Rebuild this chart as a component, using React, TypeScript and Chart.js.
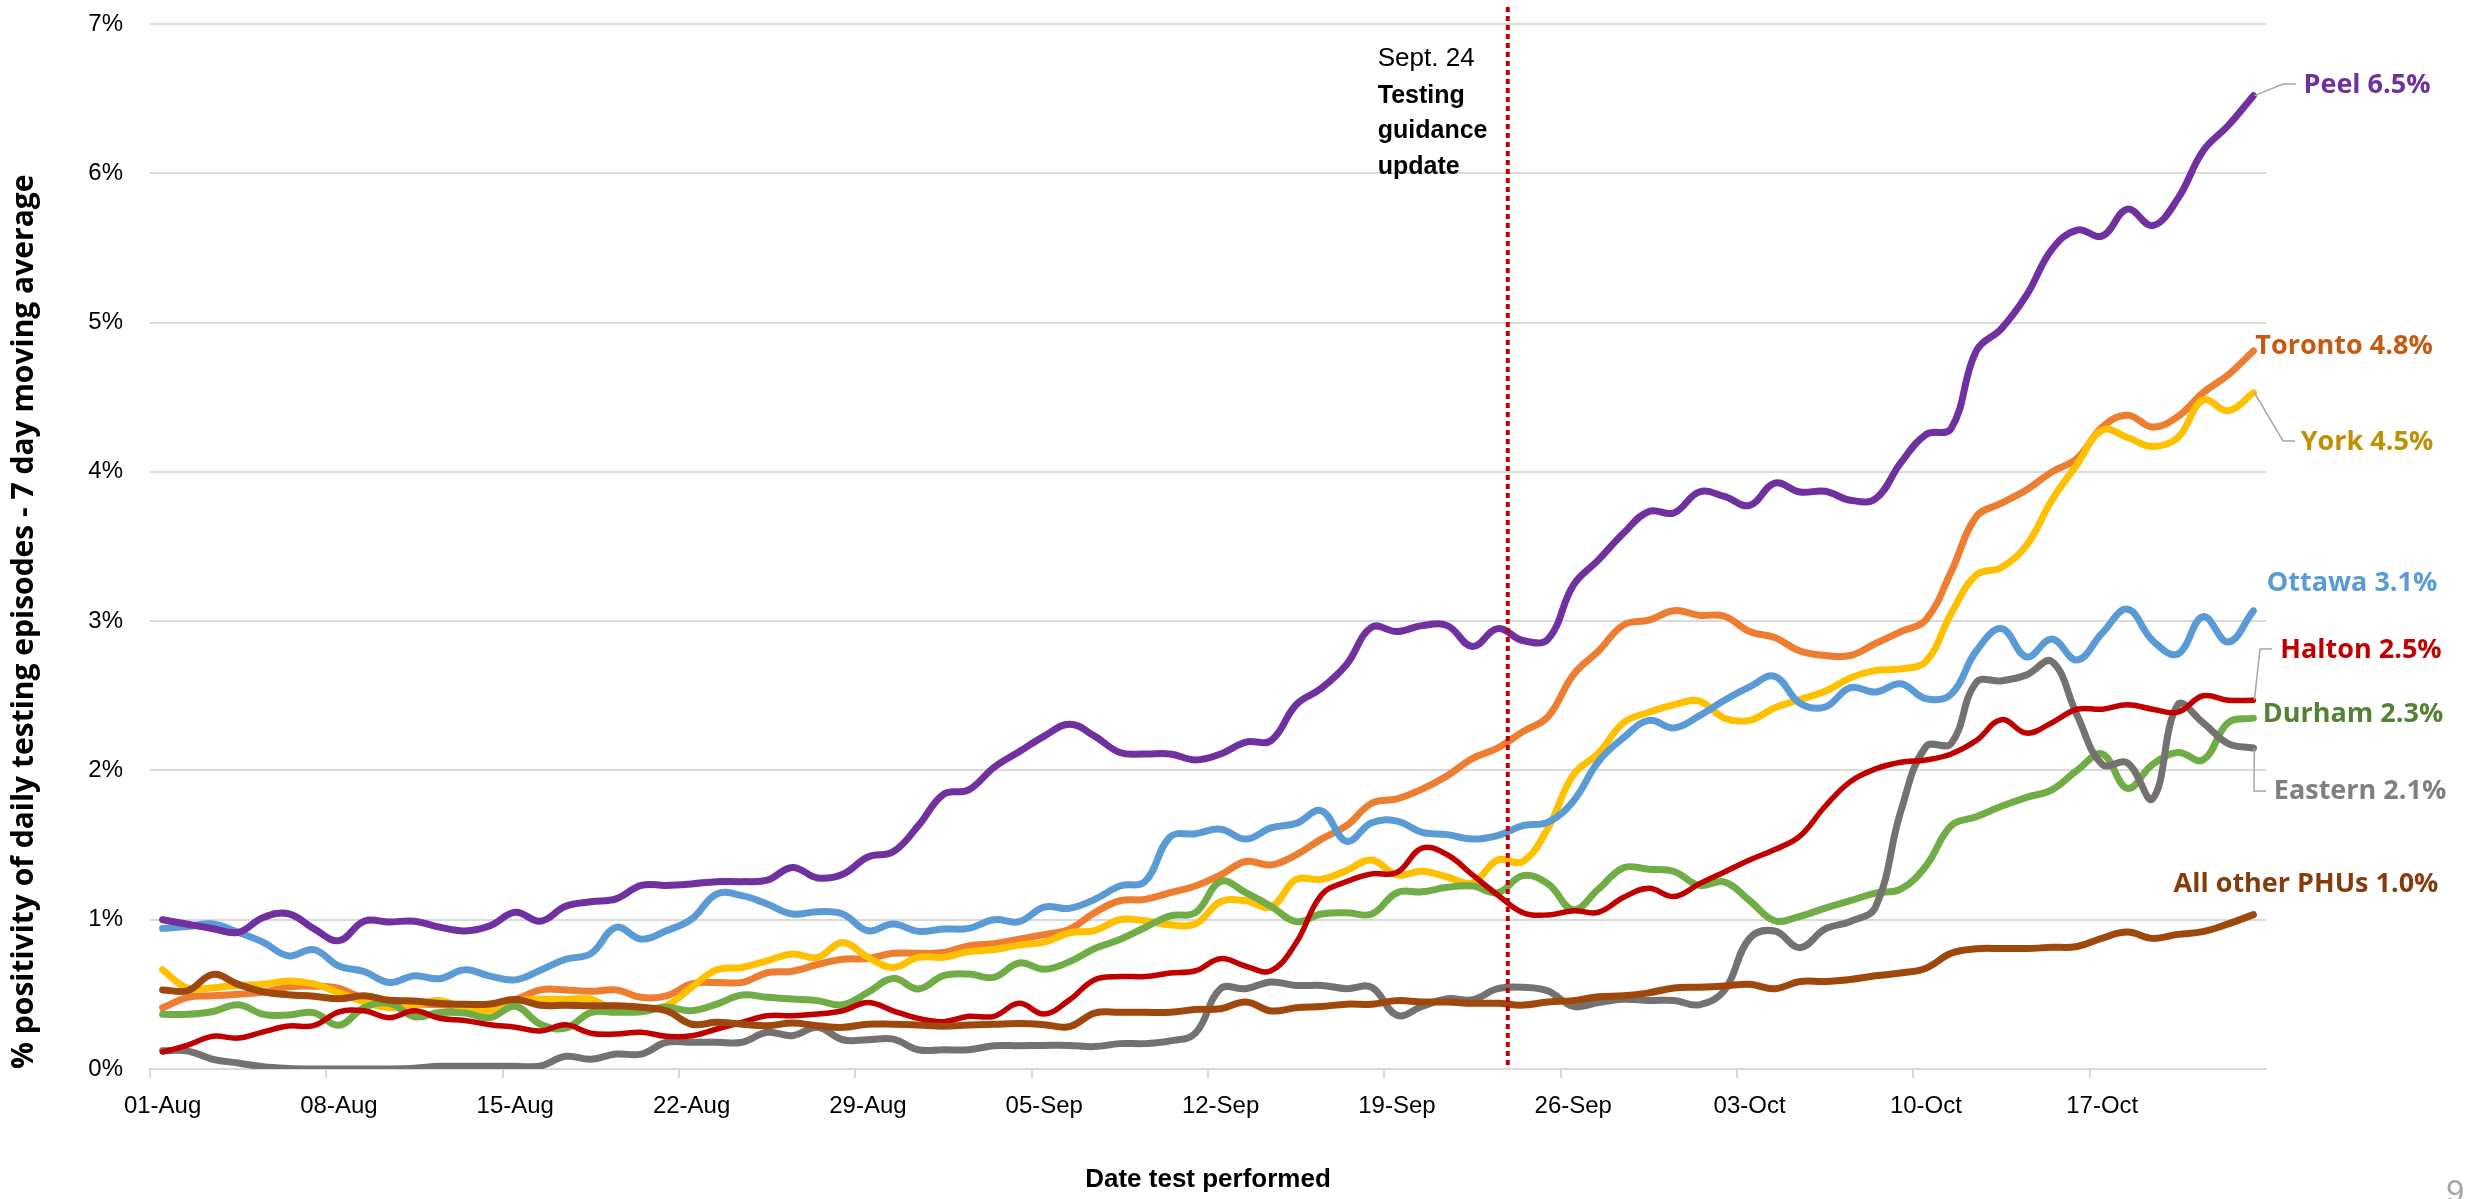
import React, { useEffect, useRef } from 'react';
import { Chart, registerables } from 'chart.js';

Chart.register(...registerables);

// ---------- DATA ----------
const DATES = [
  '01-Aug','02-Aug','03-Aug','04-Aug','05-Aug','06-Aug','07-Aug','08-Aug','09-Aug','10-Aug',
  '11-Aug','12-Aug','13-Aug','14-Aug','15-Aug','16-Aug','17-Aug','18-Aug','19-Aug','20-Aug',
  '21-Aug','22-Aug','23-Aug','24-Aug','25-Aug','26-Aug','27-Aug','28-Aug','29-Aug','30-Aug',
  '31-Aug','01-Sep','02-Sep','03-Sep','04-Sep','05-Sep','06-Sep','07-Sep','08-Sep','09-Sep',
  '10-Sep','11-Sep','12-Sep','13-Sep','14-Sep','15-Sep','16-Sep','17-Sep','18-Sep','19-Sep',
  '20-Sep','21-Sep','22-Sep','23-Sep','24-Sep','25-Sep','26-Sep','27-Sep','28-Sep','29-Sep',
  '30-Sep','01-Oct','02-Oct','03-Oct','04-Oct','05-Oct','06-Oct','07-Oct','08-Oct','09-Oct',
  '10-Oct','11-Oct','12-Oct','13-Oct','14-Oct','15-Oct','16-Oct','17-Oct','18-Oct','19-Oct',
  '20-Oct','21-Oct','22-Oct','23-Oct'
];

const TICK_LABELS = ['01-Aug','08-Aug','15-Aug','22-Aug','29-Aug','05-Sep','12-Sep','19-Sep','26-Sep','03-Oct','10-Oct','17-Oct'];
const Y_TICKS = [0, 1, 2, 3, 4, 5, 6, 7];

const PEEL = [
  1.00,0.97,0.94,0.915,1.015,1.04,0.94,0.86,0.99,0.985,
  0.99,0.95,0.925,0.96,1.05,0.99,1.09,1.12,1.14,1.23,
  1.23,1.24,1.255,1.255,1.265,1.35,1.28,1.305,1.42,1.455,
  1.63,1.84,1.87,2.02,2.125,2.23,2.31,2.23,2.12,2.11,
  2.11,2.07,2.11,2.19,2.20,2.44,2.55,2.71,2.96,2.93,
  2.97,2.97,2.83,2.95,2.87,2.88,3.24,3.41,3.59,3.735,
  3.725,3.865,3.835,3.775,3.925,3.865,3.87,3.81,3.82,4.06,
  4.25,4.29,4.81,4.96,5.185,5.49,5.62,5.58,5.76,5.65,
  5.83,6.15,6.32,6.52
];

const TORONTO = [
  0.41,0.48,0.49,0.50,0.515,0.55,0.555,0.54,0.47,0.44,
  0.435,0.43,0.42,0.43,0.465,0.53,0.53,0.52,0.53,0.48,
  0.49,0.57,0.58,0.58,0.645,0.655,0.70,0.735,0.74,0.775,
  0.775,0.78,0.825,0.84,0.87,0.90,0.936,1.047,1.127,1.136,
  1.181,1.226,1.30,1.39,1.367,1.435,1.54,1.63,1.78,1.81,
  1.875,1.965,2.08,2.15,2.26,2.36,2.64,2.80,2.975,3.007,
  3.07,3.04,3.033,2.93,2.89,2.80,2.77,2.77,2.85,2.93,
  3.01,3.33,3.70,3.79,3.88,4.00,4.09,4.30,4.38,4.30,
  4.37,4.53,4.65,4.81
];

const YORK = [
  0.665,0.54,0.545,0.56,0.567,0.59,0.57,0.51,0.45,0.41,
  0.428,0.458,0.405,0.393,0.455,0.467,0.467,0.467,0.39,0.40,
  0.424,0.547,0.665,0.68,0.725,0.77,0.748,0.848,0.748,0.68,
  0.748,0.748,0.786,0.80,0.83,0.85,0.912,0.927,1.00,0.993,
  0.966,0.972,1.12,1.127,1.085,1.27,1.27,1.33,1.40,1.30,
  1.325,1.286,1.247,1.40,1.39,1.615,1.97,2.115,2.32,2.39,
  2.44,2.465,2.35,2.335,2.42,2.475,2.53,2.62,2.67,2.68,
  2.73,3.05,3.31,3.36,3.51,3.81,4.05,4.28,4.23,4.17,
  4.23,4.48,4.41,4.53
];

const OTTAWA = [
  0.942,0.955,0.971,0.915,0.848,0.758,0.80,0.69,0.653,0.58,
  0.625,0.605,0.665,0.622,0.597,0.662,0.735,0.773,0.949,0.87,
  0.926,1.004,1.172,1.161,1.105,1.038,1.054,1.038,0.926,0.971,
  0.922,0.9375,0.942,1.00,0.987,1.085,1.076,1.136,1.226,1.256,
  1.555,1.576,1.606,1.54,1.615,1.645,1.73,1.525,1.65,1.66,
  1.585,1.57,1.54,1.564,1.63,1.654,1.794,2.06,2.22,2.335,
  2.285,2.365,2.47,2.56,2.63,2.45,2.425,2.555,2.525,2.58,
  2.48,2.51,2.80,2.95,2.76,2.88,2.74,2.92,3.08,2.87,
  2.78,3.03,2.86,3.07
];

const HALTON = [
  0.114,0.16,0.219,0.207,0.249,0.288,0.29,0.382,0.39,0.344,
  0.39,0.34,0.325,0.296,0.28,0.255,0.296,0.24,0.234,0.246,
  0.219,0.223,0.268,0.3125,0.357,0.357,0.368,0.39,0.446,0.39,
  0.339,0.317,0.353,0.353,0.44,0.368,0.463,0.598,0.619,0.619,
  0.643,0.658,0.739,0.688,0.658,0.846,1.166,1.256,1.307,1.316,
  1.48,1.435,1.30,1.166,1.047,1.032,1.06,1.05,1.15,1.21,
  1.155,1.24,1.32,1.40,1.47,1.56,1.76,1.925,2.01,2.055,
  2.07,2.11,2.20,2.34,2.25,2.32,2.41,2.41,2.44,2.41,
  2.39,2.50,2.47,2.47
];

const DURHAM = [
  0.366,0.366,0.385,0.43,0.366,0.361,0.378,0.293,0.41,0.44,
  0.35,0.378,0.375,0.344,0.42,0.30,0.274,0.378,0.38,0.384,
  0.413,0.39,0.435,0.496,0.48,0.469,0.458,0.43,0.513,0.607,
  0.536,0.625,0.636,0.614,0.71,0.668,0.718,0.807,0.867,0.948,
  1.026,1.047,1.256,1.181,1.09,0.987,1.038,1.047,1.038,1.181,
  1.187,1.217,1.226,1.181,1.295,1.24,1.067,1.205,1.348,1.338,
  1.323,1.23,1.253,1.128,0.993,1.023,1.078,1.128,1.178,1.205,
  1.36,1.63,1.69,1.76,1.82,1.87,2.00,2.11,1.88,2.04,
  2.12,2.07,2.32,2.35
];

const EASTERN = [
  0.123,0.12,0.065,0.04,0.015,0.004,0,0,0,0,
  0.005,0.018,0.018,0.018,0.018,0.02,0.085,0.065,0.10,0.10,
  0.179,0.179,0.179,0.179,0.246,0.223,0.279,0.196,0.196,0.20,
  0.129,0.129,0.129,0.156,0.156,0.158,0.158,0.15,0.17,0.17,
  0.188,0.24,0.538,0.538,0.583,0.56,0.56,0.538,0.547,0.36,
  0.419,0.47,0.464,0.538,0.547,0.523,0.419,0.445,0.467,0.459,
  0.459,0.43,0.527,0.875,0.924,0.813,0.938,0.988,1.085,1.725,
  2.16,2.18,2.59,2.60,2.64,2.73,2.37,2.04,2.05,1.81,
  2.44,2.32,2.18,2.15
];

const ALL_OTHER = [
  0.53,0.525,0.634,0.567,0.517,0.498,0.488,0.47,0.49,0.46,
  0.455,0.438,0.433,0.435,0.466,0.427,0.427,0.423,0.424,0.413,
  0.39,0.30,0.3125,0.30,0.29,0.308,0.29,0.279,0.30,0.30,
  0.295,0.286,0.295,0.30,0.304,0.297,0.284,0.374,0.38,0.38,
  0.38,0.398,0.404,0.449,0.389,0.41,0.419,0.434,0.434,0.458,
  0.449,0.449,0.44,0.44,0.428,0.449,0.458,0.484,0.49,0.51,
  0.543,0.548,0.556,0.567,0.538,0.586,0.586,0.60,0.624,0.643,
  0.675,0.775,0.805,0.807,0.807,0.815,0.821,0.877,0.917,0.875,
  0.902,0.92,0.972,1.034
];

const SERIES_LABELS = ['Peel 6.5%','Toronto 4.8%','York 4.5%','Ottawa 3.1%','Halton 2.5%','Durham 2.3%','Eastern 2.1%','All other PHUs 1.0%'];

const GUIDANCE_INDEX = 53.4;
const GUIDANCE_TEXT = ['Sept. 24', 'Testing', 'guidance', 'update'];
const Y_TITLE = '% positivity of daily testing episodes - 7 day moving average';
const X_TITLE = 'Date test performed';
const PAGE_NUMBER = '9';

// ---------- STYLE ----------
// drawn top-most first
const SERIES = [
  { key: 'Peel', data: PEEL, line: '#7030A0', text: '#7030A0', width: 7, label: SERIES_LABELS[0], cx: 2367, cy: 85, leader: [[2283, 84], [2296, 84]] },
  { key: 'All other', data: ALL_OTHER, line: '#9E480E', text: '#843C0C', width: 7, label: SERIES_LABELS[7], cx: 2306, cy: 884, leader: null },
  { key: 'Halton', data: HALTON, line: '#C00000', text: '#C00000', width: 5.5, label: SERIES_LABELS[4], cx: 2361, cy: 650, leader: [[2260, 649], [2272, 649]] },
  { key: 'Eastern', data: EASTERN, line: '#767171', text: '#7F7F7F', width: 7, label: SERIES_LABELS[6], cx: 2360, cy: 791, leader: [[2254, 791], [2266, 791]] },
  { key: 'Durham', data: DURHAM, line: '#70AD47', text: '#548235', width: 7, label: SERIES_LABELS[5], cx: 2353, cy: 714, leader: null },
  { key: 'Ottawa', data: OTTAWA, line: '#5B9BD5', text: '#5B9BD5', width: 7, label: SERIES_LABELS[3], cx: 2352, cy: 583, leader: null },
  { key: 'York', data: YORK, line: '#FFC000', text: '#BF9000', width: 7, label: SERIES_LABELS[2], cx: 2367, cy: 442, leader: [[2283, 441], [2295, 441]] },
  { key: 'Toronto', data: TORONTO, line: '#ED7D31', text: '#C55A11', width: 7, label: SERIES_LABELS[1], cx: 2344, cy: 346, leader: null },
];

const W = 2466;
const H = 1199;
const GRID = '#D9D9D9';
const CALIBRI_LIKE = '"Liberation Sans", Arial, sans-serif';
const SEGOE_LIKE = '"Open Sans", "Liberation Sans", sans-serif';

const overlayPlugin = {
  id: 'overlay',
  afterDatasetsDraw(chart: any) {
    const { ctx, scales, chartArea } = chart;
    const x = scales.x;
    const y = scales.y;
    ctx.save();

    // guidance dotted line
    const gx = x.getPixelForValue(GUIDANCE_INDEX);
    ctx.strokeStyle = '#C00000';
    ctx.lineWidth = 4;
    ctx.setLineDash([5, 4]);
    ctx.beginPath();
    ctx.moveTo(gx, chartArea.top - 17);
    ctx.lineTo(gx, chartArea.bottom - 2);
    ctx.stroke();
    ctx.setLineDash([]);

    // guidance text
    ctx.fillStyle = '#000000';
    ctx.textAlign = 'left';
    ctx.textBaseline = 'middle';
    const tOffsets = [35, 72, 107, 143];
    GUIDANCE_TEXT.forEach((t, i) => {
      ctx.font = (i === 0 ? '400 26px ' : '700 25px ') + CALIBRI_LIKE;
      ctx.fillText(t, gx - 130, chartArea.top + tOffsets[i]);
    });

    // leader lines + labels
    const lastIdx = DATES.length - 1;
    SERIES.forEach((s) => {
      if (s.leader) {
        const px = x.getPixelForValue(lastIdx);
        const py = y.getPixelForValue(s.data[lastIdx]);
        ctx.strokeStyle = '#A6A6A6';
        ctx.lineWidth = 1.5;
        ctx.beginPath();
        ctx.moveTo(px + 1, py);
        s.leader.forEach((p: number[]) => ctx.lineTo(p[0], p[1]));
        ctx.stroke();
      }
      ctx.font = '700 27px ' + SEGOE_LIKE;
      ctx.fillStyle = s.text;
      ctx.textAlign = 'center';
      ctx.textBaseline = 'middle';
      ctx.fillText(s.label, s.cx, s.cy);
    });

    // page number
    ctx.font = '400 33px ' + CALIBRI_LIKE;
    ctx.fillStyle = '#A6A6A6';
    ctx.textAlign = 'left';
    ctx.textBaseline = 'alphabetic';
    ctx.fillText(PAGE_NUMBER, 2446, 1203);

    ctx.restore();
  },
};

export default function App() {
  const canvasRef = useRef<HTMLCanvasElement | null>(null);

  useEffect(() => {
    const canvas = canvasRef.current;
    if (!canvas) return;
    const tickColor = (c: any) => (c.index % 7 === 0 ? GRID : 'rgba(0,0,0,0)');

    const chart = new Chart(canvas, {
      type: 'line',
      data: {
        labels: DATES,
        datasets: SERIES.map((s) => ({
          label: s.key,
          data: s.data,
          borderColor: s.line,
          backgroundColor: s.line,
          borderWidth: s.width,
          pointRadius: 0,
          pointHoverRadius: 0,
          tension: 0.4,
          borderCapStyle: 'round',
          borderJoinStyle: 'round',
          fill: false,
        })),
      },
      options: {
        responsive: false,
        animation: false,
        events: [],
        layout: { padding: { top: 24, right: 200, bottom: 0, left: 6 } },
        plugins: {
          legend: { display: false },
          tooltip: { enabled: false },
        },
        scales: {
          x: {
            type: 'category',
            offset: true,
            grid: {
              offset: true,
              drawOnChartArea: false,
              drawTicks: true,
              tickLength: 9,
              lineWidth: 2,
              color: tickColor,
              tickColor: tickColor,
            },
            border: { display: true, color: GRID, width: 2 },
            ticks: {
              autoSkip: false,
              maxRotation: 0,
              minRotation: 0,
              padding: 14,
              color: '#000000',
              font: { family: CALIBRI_LIKE, size: 24 },
              callback: (_v: any, i: number) => (TICK_LABELS.includes(DATES[i]) ? DATES[i] : ''),
            },
            title: {
              display: true,
              text: X_TITLE,
              color: '#000000',
              font: { family: CALIBRI_LIKE, size: 26, weight: 'bold' },
              padding: { top: 0, bottom: 4 },
            },
            afterFit: (s: any) => { s.height = 130; s.paddingLeft = 0; s.paddingRight = 0; },
          },
          y: {
            min: Y_TICKS[0],
            max: Y_TICKS[Y_TICKS.length - 1],
            grid: { color: GRID, lineWidth: 2, drawTicks: false },
            border: { display: false },
            ticks: {
              stepSize: 1,
              padding: 27,
              color: '#000000',
              font: { family: CALIBRI_LIKE, size: 24 },
              callback: (v: any) => v + '%',
            },
            title: {
              display: true,
              text: Y_TITLE,
              align: 'start',
              color: '#000000',
              font: { family: SEGOE_LIKE, size: 30, weight: 'bold' },
              padding: { top: 0, bottom: 0 },
            },
            afterFit: (s: any) => { s.width = 144; s.paddingTop = 0; s.paddingBottom = 0; },
          },
        },
      } as any,
      plugins: [overlayPlugin],
    });

    let alive = true;
    if ((document as any).fonts && (document as any).fonts.ready) {
      (document as any).fonts.ready.then(() => { if (alive) chart.update(); });
    }

    return () => {
      alive = false;
      chart.destroy();
    };
  }, []);

  return (
    <div style={{ position: 'fixed', left: 0, top: 0, width: W, height: H, background: '#ffffff' }}>
      <canvas ref={canvasRef} width={W} height={H} style={{ display: 'block', width: W, height: H }} />
    </div>
  );
}
